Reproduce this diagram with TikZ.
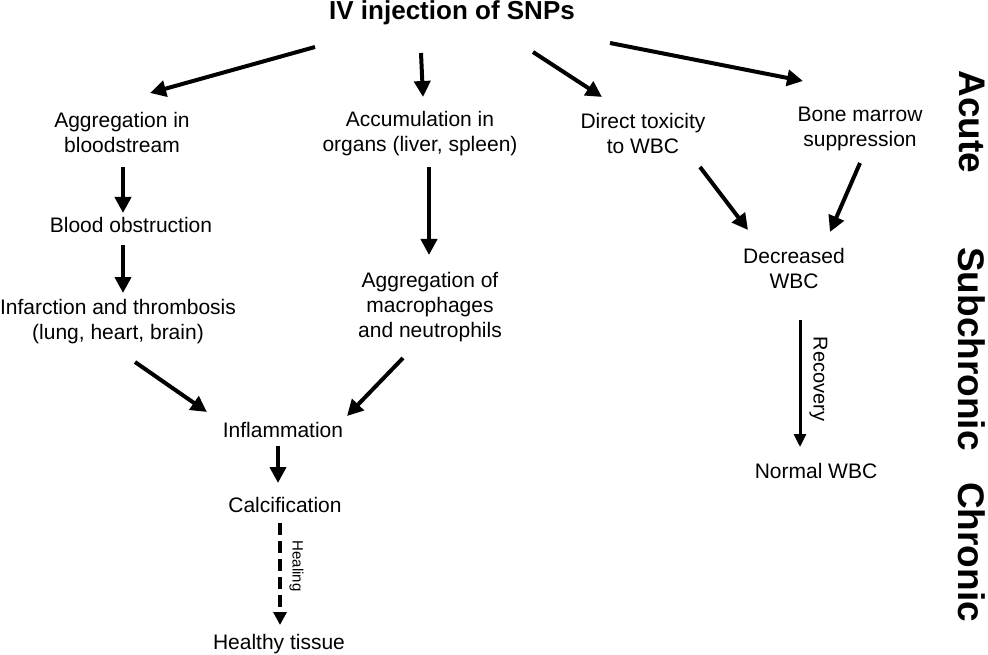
\documentclass[tikz,border=0pt]{standalone}
\usepackage{fontspec}
\setmainfont{Liberation Sans}
\usetikzlibrary{arrows.meta}

\begin{document}
\begin{tikzpicture}[x=1pt,y=-1pt,
    txt/.style={inner sep=0pt,align=center,font=\fontsize{21}{25}\selectfont},
    phase/.style={inner sep=0pt,rotate=-90,font=\fontsize{37}{40}\selectfont\bfseries},
    arr/.style={line width=4pt,-{Triangle[length=16pt,width=16pt]}},
    slim/.style={line width=3pt,-{Triangle[length=13pt,width=12pt]}}]
                \useasboundingbox (0,0) rectangle (988,655);
                \node[inner sep=0pt,font=\fontsize{26}{30}\selectfont\bfseries] (iv) at (452,13) {IV injection of SNPs};
                \node[txt] (agg) at (122,132) {Aggregation in\\bloodstream};
                \node[txt] (acc) at (420,134) {Accumulation in\\organs (liver, spleen)};
                \node[txt] (tox) at (643,133) {Direct toxicity\\to WBC};
                \node[txt] (bone) at (860,129) {Bone marrow\\suppression};
                \node[txt] (obs) at (131,225) {Blood obstruction};
                \node[txt] (inf) at (118,321.5) {Infarction and thrombosis\\(lung, heart, brain)};
                \node[txt] (mac) at (430,307) {Aggregation of\\macrophages\\and neutrophils};
                \node[txt] (dec) at (794,268) {Decreased\\WBC};
                \node[txt] (infl) at (283,429.5) {Inflammation};
                \node[txt] (calc) at (285,504.5) {Calcification};
                \node[txt] (heal) at (279,644.5) {Healthy tissue};
                \node[txt] (norm) at (816,470.5) {Normal WBC};
                \node[txt,rotate=-90,font=\fontsize{15}{18}\selectfont] (healing) at (296.5,566) {Healing};
                \node[txt,rotate=-90,font=\fontsize{20}{24}\selectfont] (recov) at (818.5,379) {Recovery};
                \node[phase] (acute) at (972,122) {Acute};
                \node[phase] (sub) at (972,349) {Subchronic};
                \node[phase] (chr) at (972,552) {Chronic};
                % acute stage
                \draw[arr] ([shift={(-137,34)}]iv.center) -- ([shift={(28,-39)}]agg.center);
                \draw[arr] ([shift={(-31,40)}]iv.center) -- ([shift={(3,-37)}]acc.center);
                \draw[arr] ([shift={(81,39)}]iv.center) -- ([shift={(-41,-36)}]tox.center);
                \draw[arr] ([shift={(158,30)}]iv.center) -- ([shift={(-57,-48)}]bone.center);
                \draw[arr] ([shift={(1,35)}]agg.center) -- ([shift={(-8,-12)}]obs.center);
                \draw[arr] ([shift={(-8,20)}]obs.center) -- ([shift={(5,-28.5)}]inf.center);
                \draw[arr] ([shift={(9,33)}]acc.center) -- ([shift={(-1,-52)}]mac.center);
                \draw[arr] ([shift={(57,34)}]tox.center) -- ([shift={(-46,-38)}]dec.center);
                \draw[arr] ([shift={(0,34)}]bone.center) -- ([shift={(36,-36)}]dec.center);
                % subchronic and chronic
                \draw[arr] ([shift={(17,40.5)}]inf.center) -- ([shift={(-76,-17.5)}]infl.center);
                \draw[arr] ([shift={(-27,51)}]mac.center) -- ([shift={(64,-13.5)}]infl.center);
                \draw[arr] ([shift={(-5,16.5)}]infl.center) -- ([shift={(-7,-21.5)}]calc.center);
                \draw[line width=4pt,dash pattern=on 12pt off 6pt,-{Triangle[length=13pt,width=13pt]}] ([shift={(-5,18.5)}]calc.center) -- ([shift={(1,-19.5)}]heal.center);
                \draw[slim] ([shift={(6,52)}]dec.center) -- ([shift={(-16,-23.5)}]norm.center);
\end{tikzpicture}
\end{document}
